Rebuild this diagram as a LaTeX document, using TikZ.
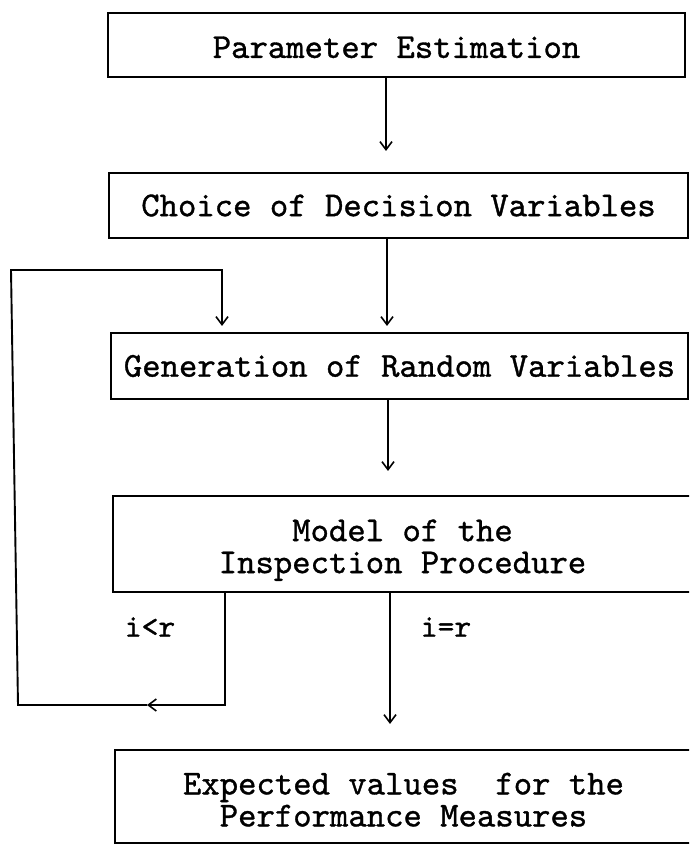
\documentclass[tikz,border=0pt]{standalone}
\usepackage{fontspec}
\newfontfamily\tw{lmmono10-regular.otf}[FakeBold=1.0]
\usetikzlibrary{arrows.meta}
\begin{document}
\begin{tikzpicture}[x=1pt,y=-1pt,
  box/.style={draw, line width=2.1pt, rectangle, inner sep=0pt, align=center,
    font=\tw\fontsize{35}{32}\selectfont},
  conn/.style={line width=1.9pt},
  arr/.style={conn, -{Straight Barb[length=8pt,width=12pt,line width=1.6pt]}},
  lab/.style={inner sep=0pt, font=\tw\fontsize{32}{31}\selectfont}]
\fill[white] (0,0) rectangle (689,844);
\useasboundingbox (0,0) rectangle (689,844);
\clip (0,0) rectangle (689,844);

\node[box, minimum width=577pt, minimum height=64pt] (b1) at (396.5,45) {\rule{0pt}{26pt}Parameter Estimation};
\node[box, minimum width=579pt, minimum height=65pt] (b2) at (398.5,205.5) {Choice of Decision Variables};
\node[box, minimum width=577pt, minimum height=66pt] (b3) at (399.5,366) {Generation of Random Variables};
\node[box, minimum width=579pt, minimum height=96pt] (b4) at (402.5,544) {\rule{0pt}{34pt}Model of the\\Inspection Procedure};
\node[box, minimum width=577pt, minimum height=93pt] (b5) at (403.5,796.5) {\rule{0pt}{28pt}Expected values\ \ for the\\Performance Measures};

\draw[arr, shorten >=21pt] ([xshift=-10.5pt]b1.south) -- ([xshift=-10.5pt]b1.south |- b2.north);
\draw[arr, shorten >=6pt] ([xshift=-11.5pt]b2.south) -- ([xshift=-11.5pt]b2.south |- b3.north);
\draw[arr, shorten >=24pt] ([xshift=-11.5pt]b3.south) -- ([xshift=-11.5pt]b3.south |- b4.north);
\draw[arr, shorten >=25pt] ([xshift=-12.5pt]b4.south) -- ([xshift=-12.5pt]b4.south |- b5.north);

\coordinate (lm) at (147,705);
\coordinate (ll) at (18,705);
\coordinate (ul) at (11,270);
\coordinate (ur) at (222,270);
\draw[arr] ([xshift=-177.5pt]b4.south) |- (lm);
\draw[arr, shorten >=6pt] (lm) -- (ll) -- (ul) -- (ur) -- (ur |- b3.north);

\node[lab] (lt) at (150,627) {i<r};
\node[lab] (eq) at (446,627) {i=r};
\end{tikzpicture}
\end{document}
